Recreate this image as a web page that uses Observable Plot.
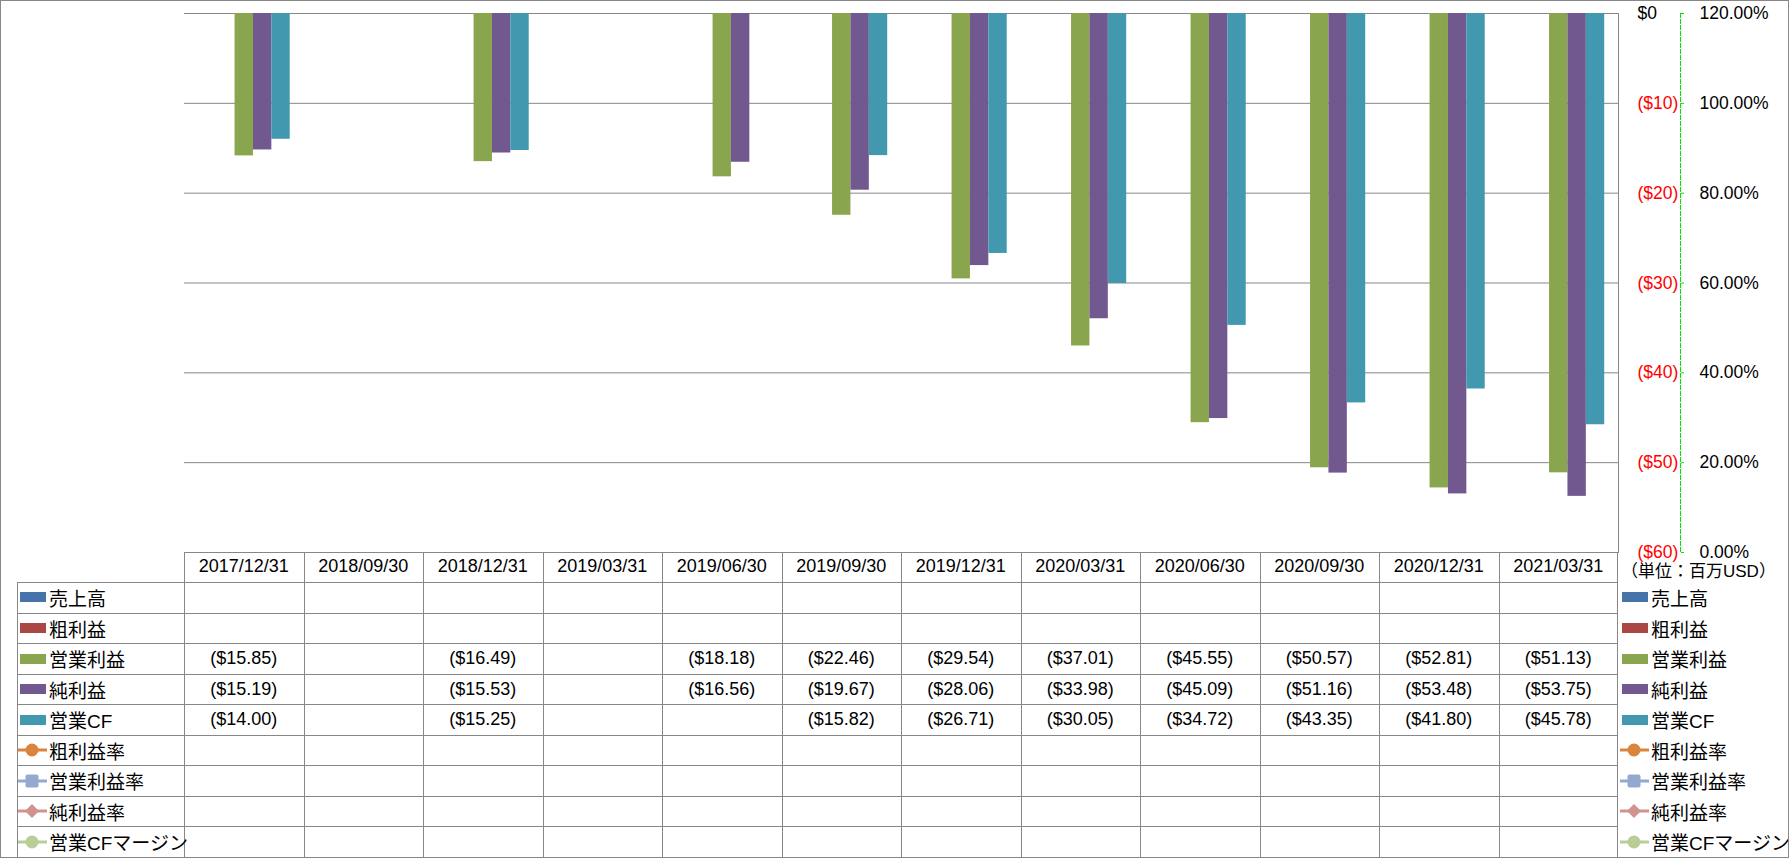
<!DOCTYPE html>
<html>
<head>
<meta charset="utf-8">
<script src="https://cdn.jsdelivr.net/npm/d3@7"></script>
<script src="https://cdn.jsdelivr.net/npm/@observablehq/plot@0.6"></script>
<style>
html,body{margin:0;padding:0;background:#fff;}
#wrap{position:relative;width:1789px;height:858px;overflow:hidden;font-family:"Liberation Sans","Noto Sans CJK JP",sans-serif;background:#fff;}
#wrap svg{position:absolute;left:0;top:0;}
#border{position:absolute;left:0;top:0;width:1789px;height:858px;box-sizing:border-box;border:1px solid #878787;pointer-events:none;}
.ln{position:absolute;background:#878787;}
.cell{position:absolute;display:flex;align-items:center;justify-content:center;font-size:18px;color:#000;white-space:nowrap;}
.lg{position:absolute;display:flex;align-items:center;font-size:19px;color:#000;white-space:nowrap;}
.lg svg{position:static !important;margin-right:2px;}
</style>
</head>
<body>
<div id="wrap"></div>
<script>
// ---- data ----
const dates = ["2017/12/31","2018/09/30","2018/12/31","2019/03/31","2019/06/30","2019/09/30","2019/12/31","2020/03/31","2020/06/30","2020/09/30","2020/12/31","2021/03/31"];
const barSeries = ["売上高","粗利益","営業利益","純利益","営業CF"];
const lineSeries = ["粗利益率","営業利益率","純利益率","営業CFマージン"];
const revenue         = [null,null,null,null,null,null,null,null,null,null,null,null];
const grossProfit     = [null,null,null,null,null,null,null,null,null,null,null,null];
const operatingIncome = [-15.85,null,-16.49,null,-18.18,-22.46,-29.54,-37.01,-45.55,-50.57,-52.81,-51.13];
const netIncome       = [-15.19,null,-15.53,null,-16.56,-19.67,-28.06,-33.98,-45.09,-51.16,-53.48,-53.75];
const operatingCF     = [-14.00,null,-15.25,null,null,-15.82,-26.71,-30.05,-34.72,-43.35,-41.80,-45.78];
const grossMargin     = [null,null,null,null,null,null,null,null,null,null,null,null];
const operatingMargin = [null,null,null,null,null,null,null,null,null,null,null,null];
const netMargin       = [null,null,null,null,null,null,null,null,null,null,null,null];
const cfMargin        = [null,null,null,null,null,null,null,null,null,null,null,null];
const dollarTicks = [0,-10,-20,-30,-40,-50,-60];
const pctTicks = [120,100,80,60,40,20,0];
const unitLabel = "（単位：百万USD）";

// ---- styles ----
const barColors = ["#4674AA","#AA4644","#89A54E","#71588F","#4198AF"];
const lineColors = ["#DB843D","#93A9CF","#D19392","#B9CD96"];
const lineMarkers = ["circle","square","diamond","circle"];
const barValues = [revenue, grossProfit, operatingIncome, netIncome, operatingCF];
const lineValues = [grossMargin, operatingMargin, netMargin, cfMargin];

const W = 1789, H = 582, ML = 184, MR = 171, MT = 13, MB = 30;
const bw = (W - ML - MR) / dates.length;
const slot = bw / 6.5;
const gap = (bw - 5 * slot) / 2;
const FONT = '"Liberation Sans","Noto Sans CJK JP",sans-serif';
const gridColor = "#878787";

const fmtDollar = v => v === 0 ? "$0" : (v < 0 ? "($" + Math.abs(v).toFixed(0) + ")" : "$" + v.toFixed(0));
const fmtVal = v => v == null ? "" : (v < 0 ? "($" + Math.abs(v).toFixed(2) + ")" : "$" + v.toFixed(2));

const barMarks = barSeries.map((s, i) => Plot.barY(
  dates.map((d, k) => ({date: d, value: barValues[i][k]})).filter(r => r.value != null),
  {x: "date", y: "value", fill: barColors[i], insetLeft: gap + i * slot, insetRight: gap + (4 - i) * slot}
));

const chart = Plot.plot({
  width: W, height: H,
  marginLeft: ML, marginRight: MR, marginTop: MT, marginBottom: MB,
  style: {background: "transparent", fontFamily: FONT, overflow: "visible"},
  x: {type: "band", domain: dates, padding: 0, round: false, axis: null},
  y: {domain: [-60, 0], axis: null},
  marks: [
    Plot.ruleY(dollarTicks, {stroke: gridColor, strokeWidth: 1}),
    ...barMarks,
    Plot.frame({anchor: "right", stroke: gridColor}),
    Plot.frame({anchor: "right", dx: 62, stroke: "#00e600", strokeDasharray: "4,2"}),
    Plot.axisY({anchor: "right", ticks: dollarTicks, tickSize: 3, dx: 62, stroke: "#00e600", tickFormat: () => "", label: null}),
    Plot.text(dollarTicks.filter(v => v >= 0), {y: d => d, text: fmtDollar, frameAnchor: "right", textAnchor: "start", dx: 19, fill: "#000", fontSize: 17.5}),
    Plot.text(dollarTicks.filter(v => v < 0), {y: d => d, text: fmtDollar, frameAnchor: "right", textAnchor: "start", dx: 19, fill: "#ff0000", fontSize: 17.5}),
    Plot.text(pctTicks, {y: p => (p - 120) / 2, text: p => p.toFixed(2) + "%", frameAnchor: "right", textAnchor: "start", dx: 81, fill: "#000", fontSize: 17.5})
  ]
});

const wrap = document.getElementById("wrap");
wrap.appendChild(chart);

// ---- data table (columns from the Plot x scale) ----
const xs = chart.scale("x");
const colLeft = d => xs.apply(d);
const tableTop = 551.7, rowH = 30.53, nRows = 10;
const plotLeft = colLeft(dates[0]);
const plotRight = colLeft(dates[dates.length - 1]) + xs.bandwidth;
const legendLeft = 17;

function addDiv(cls, style, html) {
  const el = document.createElement("div");
  el.className = cls;
  Object.assign(el.style, style);
  if (html != null) el.innerHTML = html;
  wrap.appendChild(el);
  return el;
}

// horizontal lines
for (let r = 0; r <= nRows; r++) {
  const y = Math.round(tableTop + r * rowH);
  const x0 = Math.round(r === 0 ? plotLeft : legendLeft);
  addDiv("ln", {left: x0 + "px", top: y + "px", width: (Math.round(plotRight) - x0) + "px", height: "1px"});
}
// vertical lines
addDiv("ln", {left: legendLeft + "px", top: Math.round(tableTop + rowH) + "px", width: "1px", height: (858 - Math.round(tableTop + rowH)) + "px"});
for (let k = 0; k <= dates.length; k++) {
  const x = Math.round(plotLeft + k * xs.bandwidth);
  addDiv("ln", {left: (k === dates.length ? x - 1 : x) + "px", top: Math.round(tableTop) + "px", width: "1px", height: (858 - Math.round(tableTop)) + "px"});
}

// header
dates.forEach(d => {
  addDiv("cell", {left: colLeft(d) + "px", top: tableTop + "px", width: xs.bandwidth + "px", height: rowH + "px"}, d);
});

// swatches
function rectSwatch(color) {
  return `<svg width="27" height="12" style="display:block"><rect x="0" y="1" width="26" height="10" fill="${color}"/></svg>`;
}
function lineSwatch(color, marker) {
  let m;
  if (marker === "circle") m = `<circle cx="14" cy="8" r="6.5" fill="${color}"/>`;
  else if (marker === "square") m = `<rect x="7.5" y="1.5" width="13" height="13" rx="2" fill="${color}"/>`;
  else m = `<path d="M14 1 L21 8 L14 15 L7 8 Z" fill="${color}"/>`;
  return `<svg width="29" height="16" style="display:block"><line x1="0" y1="8" x2="29" y2="8" stroke="${color}" stroke-width="3"/>${m}</svg>`;
}

const allSeries = barSeries.map((s, i) => ({name: s, values: barValues[i], sw: rectSwatch(barColors[i]), rect: true}))
  .concat(lineSeries.map((s, i) => ({name: s, values: lineValues[i], sw: lineSwatch(lineColors[i], lineMarkers[i]), rect: false})));

allSeries.forEach((s, j) => {
  const top = tableTop + (j + 1) * rowH;
  addDiv("lg", {left: (s.rect ? 20 : 18) + "px", top: top + "px", height: rowH + "px"}, s.sw + `<span>${s.name}</span>`);
  addDiv("lg", {left: (s.rect ? 1622 : 1620) + "px", top: top + "px", height: rowH + "px"}, s.sw + `<span>${s.name}</span>`);
  dates.forEach((d, k) => {
    const v = s.values[k];
    if (v != null) addDiv("cell", {left: colLeft(d) + "px", top: top + "px", width: xs.bandwidth + "px", height: rowH + "px"}, fmtVal(v));
  });
});

// unit label
addDiv("lg", {left: "1621px", top: (tableTop + 3) + "px", height: rowH + "px", fontSize: "17px"}, unitLabel);

addDiv("", {}, null).id = "border";
</script>
</body>
</html>
